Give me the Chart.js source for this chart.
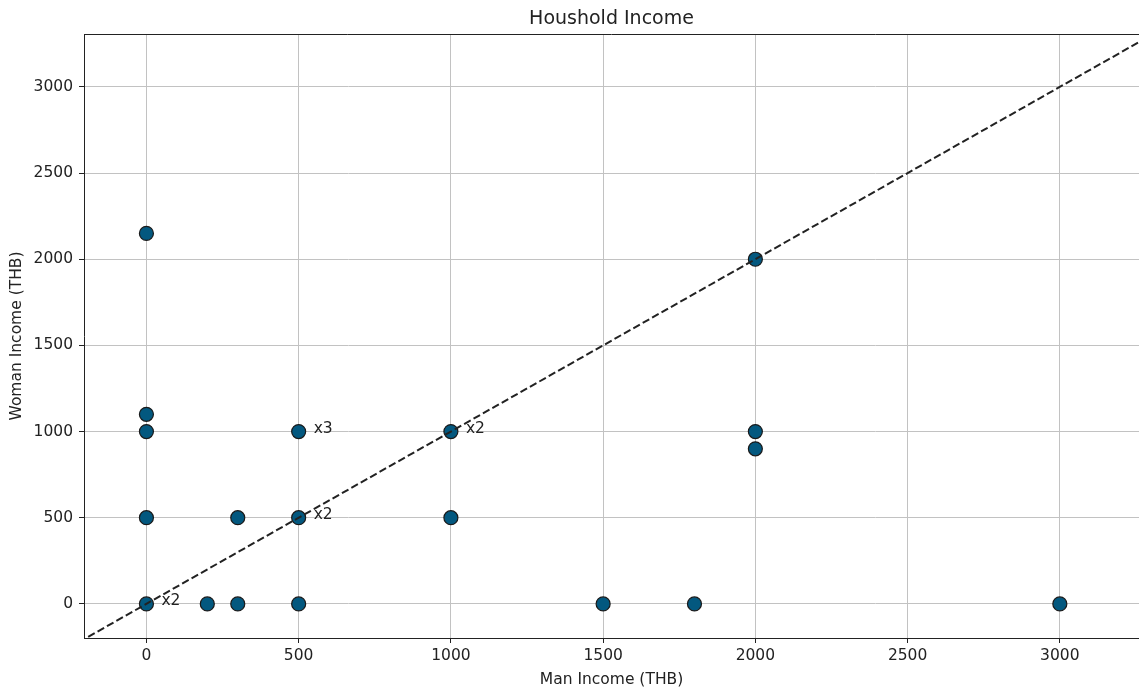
<!DOCTYPE html>
<html>
<head>
<meta charset="utf-8">
<title>Houshold Income</title>
<script src="https://cdn.jsdelivr.net/npm/chart.js@4.4.1/dist/chart.umd.min.js"></script>
<style>
    body { margin: 0; background: #fff; }
    #wrap { width: 1139px; height: 693px; }
</style>
</head>
<body>
<div id="wrap"><canvas id="incomeChart" width="1139" height="693"></canvas></div>
<script>
// Household data: one entry per distinct (man, woman) pair
const manIncome   = [0, 0, 0, 0, 0, 200, 300, 300, 500, 500, 500, 1000, 1000, 1500, 1800, 2000, 2000, 2000, 3000];
const womanIncome = [2150, 1100, 1000, 500, 0, 0, 0, 500, 0, 500, 1000, 1000, 500, 0, 0, 2000, 1000, 900, 0];
const households  = [1, 1, 1, 1, 2, 1, 1, 1, 1, 2, 3, 2, 1, 1, 1, 1, 1, 1, 1];

// Equal income reference line (y = x)
const equalLine = [-500, 4000];

const xTicks = [0, 500, 1000, 1500, 2000, 2500, 3000];
const yTicks = [0, 500, 1000, 1500, 2000, 2500, 3000];

Chart.defaults.font.family = 'DejaVu Sans, sans-serif';
Chart.defaults.color = '#222';

const points = manIncome.map((m, i) => ({ x: m, y: womanIncome[i] }));
const linePoints = equalLine.map(v => ({ x: v, y: v }));

// Top spine + "xN" labels for repeated households
const countLabels = {
    id: 'countLabels',
    afterDatasetsDraw(chart) {
        const { ctx, chartArea, scales } = chart;
        ctx.save();
        ctx.strokeStyle = '#222';
        ctx.lineWidth = 1;
        ctx.beginPath();
        ctx.moveTo(chartArea.left, chartArea.top + 0.5);
        ctx.lineTo(chartArea.right, chartArea.top + 0.5);
        ctx.stroke();

        ctx.font = '15.5px DejaVu Sans, sans-serif';
        ctx.fillStyle = '#222';
        ctx.textAlign = 'left';
        ctx.textBaseline = 'alphabetic';
        households.forEach((n, i) => {
            if (n < 2) return;
            const px = scales.x.getPixelForValue(manIncome[i]);
            const py = scales.y.getPixelForValue(womanIncome[i]);
            ctx.fillText('x' + n, px + 15, py + 1);
        });
        ctx.restore();
    }
};

const plainTick = value => String(value);

new Chart(document.getElementById('incomeChart'), {
    type: 'scatter',
    data: {
        datasets: [
            {
                label: 'y = x',
                type: 'line',
                data: linePoints,
                borderColor: '#222',
                borderWidth: 2,
                borderDash: [7.5, 3.3],
                pointRadius: 0,
                fill: false,
                order: 0
            },
            {
                label: 'Households',
                data: points,
                backgroundColor: '#03587f',
                borderColor: '#1a1a1a',
                borderWidth: 1.2,
                pointRadius: 7,
                pointHoverRadius: 7,
                order: 1
            }
        ]
    },
    options: {
        responsive: false,
        animation: false,
        devicePixelRatio: 1,
        layout: { padding: 0, autoPadding: false },
        plugins: {
            legend: { display: false },
            tooltip: { enabled: false },
            title: {
                display: true,
                text: 'Houshold Income',
                fullSize: false,
                color: '#222',
                font: { size: 19, weight: 'normal' },
                padding: { top: 7.5, bottom: 3.7 }
            }
        },
        scales: {
            x: {
                type: 'linear',
                min: -205,
                max: 3260,
                afterBuildTicks: scale => { scale.ticks = xTicks.map(v => ({ value: v })); },
                afterFit: scale => {
                    scale.height = 55;
                    scale.paddingLeft = 0;
                    scale.paddingRight = 0;
                },
                ticks: { font: { size: 15.5 }, padding: 4, maxRotation: 0, callback: plainTick },
                grid: { color: '#c2c2c2', lineWidth: 1, tickColor: '#222', tickLength: 5 },
                border: { color: '#222', width: 1 },
                title: {
                    display: true,
                    text: 'Man Income (THB)',
                    font: { size: 15.5 },
                    padding: { top: 0, bottom: 3.7 }
                }
            },
            y: {
                type: 'linear',
                min: -198,
                max: 3307,
                afterBuildTicks: scale => { scale.ticks = yTicks.map(v => ({ value: v })); },
                afterFit: scale => {
                    scale.width = 84;
                    scale.paddingTop = 0;
                    scale.paddingBottom = 0;
                },
                ticks: { font: { size: 15.5 }, padding: 6, callback: plainTick },
                grid: { color: '#c2c2c2', lineWidth: 1, tickColor: '#222', tickLength: 5 },
                border: { color: '#222', width: 1 },
                title: {
                    display: true,
                    text: 'Woman Income (THB)',
                    font: { size: 15.5 },
                    padding: { top: 7.7, bottom: 0 }
                }
            }
        }
    },
    plugins: [countLabels]
});
</script>
</body>
</html>
